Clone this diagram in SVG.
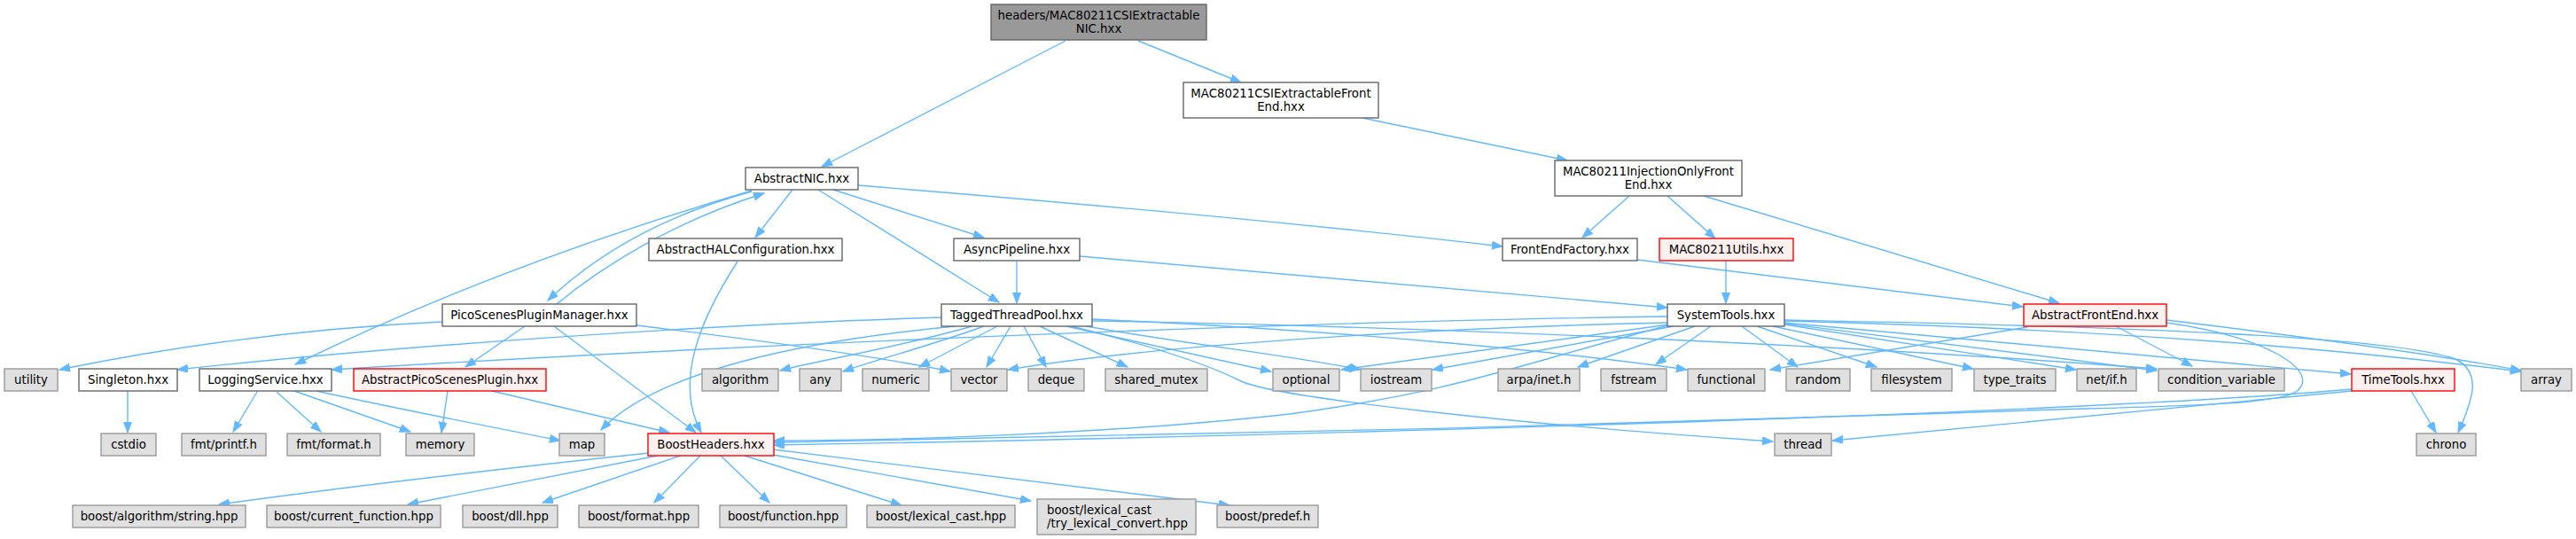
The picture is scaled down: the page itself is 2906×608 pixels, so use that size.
<svg xmlns="http://www.w3.org/2000/svg" width="2906" height="608" viewBox="0 0 2906 608">
<defs>
<marker id="ah" markerUnits="userSpaceOnUse" markerWidth="13" markerHeight="10" refX="12" refY="4.5" orient="auto">
<path d="M0,0 L12,4.5 L0,9 z" fill="#63b8ff" stroke="#63b8ff" stroke-width="1"/>
</marker>
<style>
.e{fill:none;stroke:#63b8ff;stroke-width:1.4;marker-end:url(#ah)}
.n rect{fill:#ffffff;stroke:#666666;stroke-width:1.4}
.x rect{fill:#e0e0e0;stroke:#999999;stroke-width:1.4}
.r rect{fill:#fff0f0;stroke:#ff0000;stroke-width:1.4}
.g rect{fill:#999999;stroke:#666666;stroke-width:1.4}
text{font-family:"DejaVu Sans","Liberation Sans",sans-serif;font-size:13.3px;fill:#000000;text-anchor:middle}
text.l{text-anchor:start}
</style>
</defs>
<rect width="2906" height="608" fill="#ffffff"/>
<g id="edges">
<path class="e" d="M1202,46 L927,188"/>
<path class="e" d="M1284,46 L1400,93"/>
<path class="e" d="M1537,133 L1768,181"/>
<path class="e" d="M1838,221 L1785,268"/>
<path class="e" d="M1881,221 L1935,269"/>
<path class="e" d="M1922,221 L2323,342"/>
<path class="e" d="M968,209 C1250,232 1480,253 1695,278"/>
<path class="e" d="M894,214 L852,268"/>
<path class="e" d="M940,214 L1110,268"/>
<path class="e" d="M923,214 L1127,341"/>
<path class="e" d="M848,216 C760,240 680,280 618,339"/>
<path class="e" d="M628,343 C680,300 760,250 862,218"/>
<path class="e" d="M848,215 Q560,300 333,411"/>
<path class="e" d="M832,295 C790,360 760,430 791,488"/>
<path class="e" d="M1147,295 L1147,342"/>
<path class="e" d="M1218,289 L1881,347"/>
<path class="e" d="M1847,293 L2282,346"/>
<path class="e" d="M1947,294 L1947,342"/>
<path class="e" d="M499,363 C350,370 200,390 67,417"/>
<path class="e" d="M592,368 L525,414"/>
<path class="e" d="M625,368 L785,488"/>
<path class="e" d="M718,367 C850,383 980,400 1072,419"/>
<path class="e" d="M1062,358 C800,366 450,390 200,417"/>
<path class="e" d="M1078,368 C900,385 740,420 678,485"/>
<path class="e" d="M1097,368 C1000,395 930,405 880,418"/>
<path class="e" d="M1110,368 C1050,390 990,405 951,419"/>
<path class="e" d="M1125,368 L1037,414"/>
<path class="e" d="M1140,368 L1113,414"/>
<path class="e" d="M1155,368 L1180,414"/>
<path class="e" d="M1173,368 L1272,414"/>
<path class="e" d="M1203,368 L1434,419"/>
<path class="e" d="M1225,368 C1350,390 1450,400 1535,417"/>
<path class="e" d="M1232,360 C1500,372 1750,395 1903,417"/>
<path class="e" d="M1208,368 C1300,390 1360,410 1400,430 C1440,448 1700,478 2000,498"/>
<path class="e" d="M1232,362 C1600,368 2100,390 2433,416"/>
<path class="e" d="M1881,357 C1500,362 900,385 374,417"/>
<path class="e" d="M1881,364 C1600,370 1300,390 1137,417"/>
<path class="e" d="M1882,367 C1700,415 1650,440 1455,467 C1250,490 1000,497 873,497"/>
<path class="e" d="M1883,366 L1513,417"/>
<path class="e" d="M1888,368 L1616,417"/>
<path class="e" d="M1912,368 L1780,414"/>
<path class="e" d="M1930,368 L1868,411"/>
<path class="e" d="M1965,368 L2028,414"/>
<path class="e" d="M1982,368 L2117,414"/>
<path class="e" d="M2000,368 L2226,416"/>
<path class="e" d="M2013,366 L2342,417"/>
<path class="e" d="M2013,365 L2433,418"/>
<path class="e" d="M2013,364 L2652,422"/>
<path class="e" d="M2013,362 C2400,372 2650,395 2844,419"/>
<path class="e" d="M2013,361 C2400,368 2700,380 2770,405 C2800,420 2790,450 2773,488"/>
<path class="e" d="M2287,369 L1997,417"/>
<path class="e" d="M2387,368 L2473,413"/>
<path class="e" d="M2444,361 C2600,380 2750,400 2844,418"/>
<path class="e" d="M2444,364 C2560,380 2620,420 2590,442 C2560,460 2400,458 2200,466 C1800,480 1200,495 873,499"/>
<path class="e" d="M2720,441 L2748,488"/>
<path class="e" d="M2653,439 C2300,470 1300,495 873,502"/>
<path class="e" d="M2653,441 C2450,460 2250,480 2067,497"/>
<path class="e" d="M290,442 L263,487"/>
<path class="e" d="M312,442 L362,487"/>
<path class="e" d="M332,441 L463,487"/>
<path class="e" d="M357,441 C420,455 520,475 632,497"/>
<path class="e" d="M144,441 L144,488"/>
<path class="e" d="M505,441 L498,488"/>
<path class="e" d="M555,441 L755,488"/>
<path class="e" d="M732,511 C600,525 400,548 247,569"/>
<path class="e" d="M742,514 Q560,550 460,569"/>
<path class="e" d="M768,514 L612,567"/>
<path class="e" d="M790,514 L738,567"/>
<path class="e" d="M813,514 L868,567"/>
<path class="e" d="M840,514 L1017,570"/>
<path class="e" d="M872,513 L1163,565"/>
<path class="e" d="M872,507 L1387,570"/>
</g>
<g id="n_root" class="g"><rect x="1118" y="5" width="243" height="40"/><text x="1239.5" y="21.5">headers/MAC80211CSIExtractable</text><text x="1239.5" y="36.5">NIC.hxx</text></g>
<g id="n_csife" class="n"><rect x="1335" y="93" width="220" height="40"/><text x="1445" y="109.5">MAC80211CSIExtractableFront</text><text x="1445" y="124.5">End.hxx</text></g>
<g id="n_injfe" class="n"><rect x="1754" y="181" width="211" height="40"/><text x="1859.5" y="197.5">MAC80211InjectionOnlyFront</text><text x="1859.5" y="212.5">End.hxx</text></g>
<g id="n_abstractnic" class="n"><rect x="841" y="189" width="127" height="25"/><text x="904.5" y="206">AbstractNIC.hxx</text></g>
<g id="n_ahc" class="n"><rect x="732" y="269" width="218" height="25"/><text x="841" y="286">AbstractHALConfiguration.hxx</text></g>
<g id="n_async" class="n"><rect x="1076" y="269" width="142" height="25"/><text x="1147" y="286">AsyncPipeline.hxx</text></g>
<g id="n_fef" class="n"><rect x="1695" y="269" width="152" height="25"/><text x="1771" y="286">FrontEndFactory.hxx</text></g>
<g id="n_utils" class="r"><rect x="1872" y="269" width="151" height="25"/><text x="1947.5" y="286">MAC80211Utils.hxx</text></g>
<g id="n_pspm" class="n"><rect x="499" y="343" width="219" height="25"/><text x="608.5" y="360">PicoScenesPluginManager.hxx</text></g>
<g id="n_ttp" class="n"><rect x="1062" y="343" width="170" height="25"/><text x="1147" y="360">TaggedThreadPool.hxx</text></g>
<g id="n_systools" class="n"><rect x="1881" y="343" width="132" height="25"/><text x="1947" y="360">SystemTools.hxx</text></g>
<g id="n_afe" class="r"><rect x="2283" y="343" width="161" height="25"/><text x="2363.5" y="360">AbstractFrontEnd.hxx</text></g>
<g id="n_utility" class="x"><rect x="5" y="416" width="60" height="25"/><text x="35" y="433">utility</text></g>
<g id="n_singleton" class="n"><rect x="89" y="416" width="111" height="25"/><text x="144.5" y="433">Singleton.hxx</text></g>
<g id="n_logging" class="n"><rect x="225" y="416" width="149" height="25"/><text x="299.5" y="433">LoggingService.hxx</text></g>
<g id="n_apsp" class="r"><rect x="399" y="416" width="217" height="25"/><text x="507.5" y="433">AbstractPicoScenesPlugin.hxx</text></g>
<g id="n_algorithm" class="x"><rect x="792" y="416" width="86" height="25"/><text x="835" y="433">algorithm</text></g>
<g id="n_any" class="x"><rect x="902" y="416" width="47" height="25"/><text x="925.5" y="433">any</text></g>
<g id="n_numeric" class="x"><rect x="973" y="416" width="75" height="25"/><text x="1010.5" y="433">numeric</text></g>
<g id="n_vector" class="x"><rect x="1073" y="416" width="63" height="25"/><text x="1104.5" y="433">vector</text></g>
<g id="n_deque" class="x"><rect x="1160" y="416" width="63" height="25"/><text x="1191.5" y="433">deque</text></g>
<g id="n_shared_mutex" class="x"><rect x="1247" y="416" width="115" height="25"/><text x="1304.5" y="433">shared_mutex</text></g>
<g id="n_optional" class="x"><rect x="1436" y="416" width="75" height="25"/><text x="1473.5" y="433">optional</text></g>
<g id="n_iostream" class="x"><rect x="1535" y="416" width="80" height="25"/><text x="1575" y="433">iostream</text></g>
<g id="n_arpa" class="x"><rect x="1690" y="416" width="92" height="25"/><text x="1736" y="433">arpa/inet.h</text></g>
<g id="n_fstream" class="x"><rect x="1806" y="416" width="74" height="25"/><text x="1843" y="433">fstream</text></g>
<g id="n_functional" class="x"><rect x="1904" y="416" width="87" height="25"/><text x="1947.5" y="433">functional</text></g>
<g id="n_random" class="x"><rect x="2015" y="416" width="72" height="25"/><text x="2051" y="433">random</text></g>
<g id="n_filesystem" class="x"><rect x="2111" y="416" width="91" height="25"/><text x="2156.5" y="433">filesystem</text></g>
<g id="n_type_traits" class="x"><rect x="2227" y="416" width="92" height="25"/><text x="2273" y="433">type_traits</text></g>
<g id="n_netif" class="x"><rect x="2343" y="416" width="67" height="25"/><text x="2376.5" y="433">net/if.h</text></g>
<g id="n_condvar" class="x"><rect x="2435" y="416" width="142" height="25"/><text x="2506" y="433">condition_variable</text></g>
<g id="n_timetools" class="r"><rect x="2653" y="416" width="116" height="25"/><text x="2711" y="433">TimeTools.hxx</text></g>
<g id="n_array" class="x"><rect x="2844" y="416" width="57" height="25"/><text x="2872.5" y="433">array</text></g>
<g id="n_cstdio" class="x"><rect x="114" y="489" width="62" height="25"/><text x="145" y="506">cstdio</text></g>
<g id="n_fmtprintf" class="x"><rect x="205" y="489" width="95" height="25"/><text x="252.5" y="506">fmt/printf.h</text></g>
<g id="n_fmtformat" class="x"><rect x="324" y="489" width="105" height="25"/><text x="376.5" y="506">fmt/format.h</text></g>
<g id="n_memory" class="x"><rect x="458" y="489" width="77" height="25"/><text x="496.5" y="506">memory</text></g>
<g id="n_map" class="x"><rect x="631" y="489" width="51" height="25"/><text x="656.5" y="506">map</text></g>
<g id="n_boostheaders" class="r"><rect x="731" y="489" width="142" height="25"/><text x="802" y="506">BoostHeaders.hxx</text></g>
<g id="n_thread" class="x"><rect x="2002" y="489" width="64" height="25"/><text x="2034" y="506">thread</text></g>
<g id="n_chrono" class="x"><rect x="2726" y="489" width="67" height="25"/><text x="2759.5" y="506">chrono</text></g>
<g id="n_b_algstr" class="x"><rect x="82" y="570" width="195" height="25"/><text x="179.5" y="587">boost/algorithm/string.hpp</text></g>
<g id="n_b_curfn" class="x"><rect x="301" y="570" width="196" height="25"/><text x="399" y="587">boost/current_function.hpp</text></g>
<g id="n_b_dll" class="x"><rect x="522" y="570" width="107" height="25"/><text x="575.5" y="587">boost/dll.hpp</text></g>
<g id="n_b_format" class="x"><rect x="653" y="570" width="135" height="25"/><text x="720.5" y="587">boost/format.hpp</text></g>
<g id="n_b_function" class="x"><rect x="812" y="570" width="143" height="25"/><text x="883.5" y="587">boost/function.hpp</text></g>
<g id="n_b_lexcast" class="x"><rect x="978" y="570" width="167" height="25"/><text x="1061.5" y="587">boost/lexical_cast.hpp</text></g>
<g id="n_b_trylex" class="x"><rect x="1170" y="563" width="179" height="40"/><text class="l" x="1181" y="579.5">boost/lexical_cast</text><text class="l" x="1181" y="594.5">/try_lexical_convert.hpp</text></g>
<g id="n_b_predef" class="x"><rect x="1373" y="570" width="114" height="25"/><text x="1430" y="587">boost/predef.h</text></g>
</svg>
